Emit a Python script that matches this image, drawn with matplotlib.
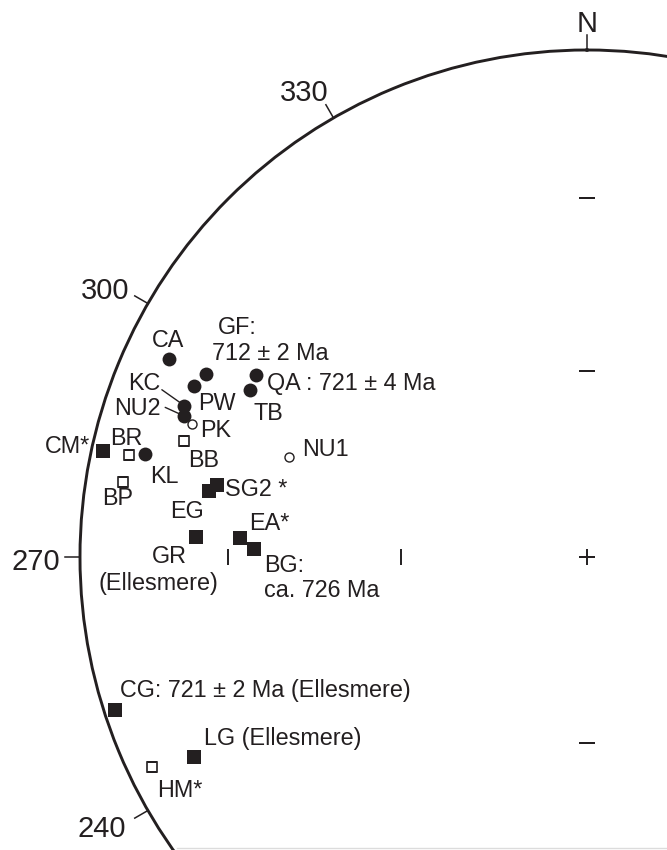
import numpy as np
import matplotlib
matplotlib.use('Agg')
import matplotlib.pyplot as plt
from matplotlib.lines import Line2D

plt.rcParams['font.family'] = ['Liberation Sans', 'DejaVu Sans']
ink = '#231f20'

# pole positions (longitude E, latitude N)
site = ['CA', 'GF', 'PW', 'QA', 'TB', 'KC', 'NU2', 'KL',
        'PK', 'NU1',
        'CM', 'SG2', 'EG', 'GR', 'EA', 'BG', 'CG', 'LG',
        'BR', 'BB', 'BP', 'HM']
lon = [295.3, 295.7, 293.5, 298.8, 296.4, 290.6, 289.3, 283.1,
       288.6, 288.6,
       282.4, 281.0, 279.9, 272.9, 273.2, 271.3, 252.0, 243.0,
       282.6, 286.0, 279.2, 244.2]
lat = [9.7, 17.7, 16.5, 26.4, 26.7, 16.3, 16.8, 11.5,
       18.9, 37.9,
       2.6, 26.6, 25.2, 23.8, 32.0, 34.6, 2.4, 14.1,
       8.3, 18.4, 8.1, 5.2]
kind = ['fc'] * 8 + ['oc'] * 2 + ['fs'] * 8 + ['os'] * 4

# text beside each pole
label_site = ['CA', 'GF', 'GF', 'PW', 'QA', 'TB', 'KC', 'NU2', 'KL', 'PK', 'NU1',
              'CM', 'SG2', 'EG', 'GR', 'GR', 'EA', 'BG', 'BG', 'CG', 'LG',
              'BR', 'BB', 'BP', 'HM']
label_text = ['CA', 'GF:', '712 ± 2 Ma', 'PW', 'QA : 721 ± 4 Ma', 'TB', 'KC', 'NU2', 'KL', 'PK', 'NU1',
              'CM*', 'SG2 *', 'EG', 'GR', '(Ellesmere)', 'EA*', 'BG:', 'ca. 726 Ma',
              'CG: 721 ± 2 Ma (Ellesmere)', 'LG (Ellesmere)',
              'BR', 'BB', 'BP', 'HM*']

# azimuth ticks on the primitive circle
az_lon = [0, 330, 300, 270, 240]
az_text = ['N', '330', '300', '270', '240']

# latitude marks along meridians
mark_lon_h = [0, 0, 180]
mark_lat_h = [30, 60, 60]
mark_lon_v = [270, 270]
mark_lat_v = [30, 60]


def eq_area(la):
    colat = np.radians(90 - np.asarray(la, dtype=float))
    return np.sin(colat / 2) / np.sin(np.pi / 4)


fig = plt.figure(figsize=(6.67, 8.5), dpi=100)
W, H = 667., 850.
cx, cy, R = 587., 557., 507.
ax = fig.add_axes([(cx - R) / W, (H - cy - R) / H, 2 * R / W, 2 * R / H], projection='polar')
ax.set_theta_zero_location('N')
ax.set_theta_direction(-1)
ax.set_rlim(0, 1)
ax.set_xticks([])
ax.set_yticks([])
ax.grid(False)
ax.spines['polar'].set_linewidth(2.1)
ax.spines['polar'].set_color(ink)

# azimuth ticks + labels
az_off = {'N': ((0, 2.2), 'center'), '330': ((1.8, 2.9), 'right'), '300': ((-4.1, -2.4), 'right'),
          '270': ((-3.6, -9.4), 'right'), '240': ((-6.5, -13.5), 'right')}
for a, t in zip(az_lon, az_text):
    th = np.radians(a)
    ax.plot([th, th], [1.0, 1.03], color=ink, lw=1.1, clip_on=False)
    off, ha = az_off[t]
    ax.annotate(t, xy=(th, 1.03), xytext=off, textcoords='offset points', ha=ha, va='baseline',
                fontsize=21, color=ink, annotation_clip=False)

# latitude marks
ax.plot(np.radians(mark_lon_h), eq_area(mark_lat_h), ls='none', marker='_', ms=12, mew=1.4, color=ink)
ax.plot(np.radians(mark_lon_v), eq_area(mark_lat_v), ls='none', marker='|', ms=12, mew=1.4, color=ink)
ax.plot([0], eq_area([90]), ls='none', marker='+', ms=12, mew=1.4, color=ink)

# poles
style = {'fc': dict(marker='o', ms=10, mfc=ink, mec=ink, mew=0, zorder=3),
         'fs': dict(marker='s', ms=10, mfc=ink, mec=ink, mew=0, zorder=3),
         'oc': dict(marker='o', ms=6.5, mfc='white', mec=ink, mew=1.0, zorder=4),
         'os': dict(marker='s', ms=7.9, mfc='white', mec=ink, mew=1.2, zorder=4)}
th_all = np.radians(lon)
r_all = eq_area(lat)
for k in style:
    idx = [i for i, kk in enumerate(kind) if kk == k]
    ax.plot(th_all[idx], r_all[idx], ls='none', **style[k])

pos = {s: (th_all[i], r_all[i]) for i, s in enumerate(site)}

lab_off = {'CA': ((-0.6, 8.9), 'center'), 'GF:': ((8.6, 28.3), 'left'), '712 ± 2 Ma': ((4.3, 9.6), 'left'),
           'PW': ((3.4, -17.3), 'left'), 'QA : 721 ± 4 Ma': ((7.9, -10.6), 'left'), 'TB': ((2.2, -21.6), 'left'),
           'KC': ((-17.5, 11.5), 'right'), 'NU2': ((-16.8, 0.7), 'right'), 'KL': ((3.6, -20.7), 'left'),
           'PK': ((6.0, -9.4), 'left'), 'NU1': ((9.9, 0.5), 'left'), 'CM*': ((-9.6, -1.7), 'right'),
           'SG2 *': ((5.5, -7.9), 'left'), 'EG': ((-27.6, -19.4), 'left'), 'GR': ((-31.5, -18.5), 'left'),
           '(Ellesmere)': ((-70.3, -37.9), 'left'), 'EA*': ((6.5, 5.3), 'left'), 'BG:': ((7.2, -16.3), 'left'),
           'ca. 726 Ma': ((7.2, -34.3), 'left'), 'CG: 721 ± 2 Ma (Ellesmere)': ((3.6, 9.9), 'left'),
           'LG (Ellesmere)': ((7.2, 8.9), 'left'), 'BR': ((-13.9, 6.7), 'left'), 'BB': ((2.9, -18.2), 'left'),
           'BP': ((-15.3, -16.3), 'left'), 'HM*': ((3.8, -21.4), 'left')}
for s, t in zip(label_site, label_text):
    off, ha = lab_off[t]
    ax.annotate(t, xy=pos[s], xytext=off, textcoords='offset points', ha=ha, va='baseline',
                fontsize=16.8, color=ink, annotation_clip=False, zorder=5)

# leader lines for KC and NU2
ax.annotate('', xy=pos['KC'], xytext=(-16.3, 11.5), textcoords='offset points',
            arrowprops=dict(arrowstyle='-', color=ink, lw=1.0, shrinkA=0, shrinkB=0))
ax.annotate('', xy=pos['NU2'], xytext=(-13.2, 6.0), textcoords='offset points',
            arrowprops=dict(arrowstyle='-', color=ink, lw=1.0, shrinkA=0, shrinkB=0))

fig.add_artist(Line2D([177 / W, 1], [1.8 / H, 1.8 / H], color='#dcdcdc', lw=1))

fig.savefig('out.png', dpi=100)
